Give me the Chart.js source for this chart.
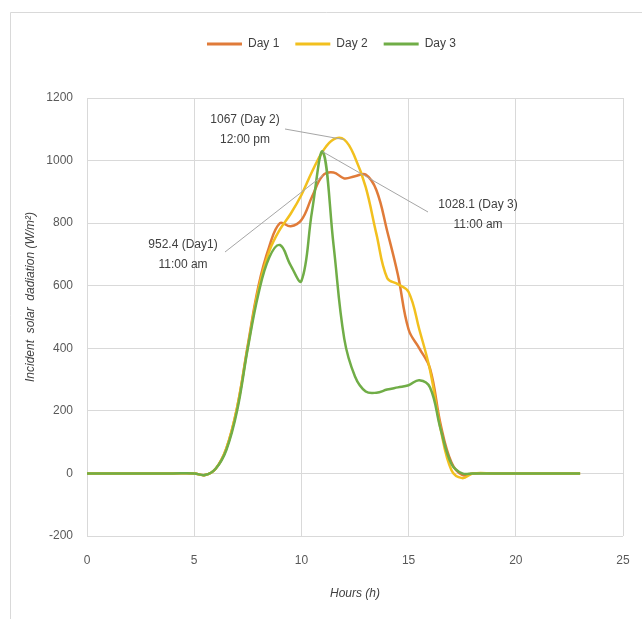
<!DOCTYPE html>
<html>
<head>
<meta charset="utf-8">
<script src="https://cdn.jsdelivr.net/npm/chart.js@4.4.1/dist/chart.umd.min.js"></script>
<style>
  html, body { margin: 0; padding: 0; background: #fff; }
  #wrap { width: 642px; height: 619px; }
</style>
</head>
<body>
<div id="wrap"><canvas id="solarChart" width="642" height="619"></canvas></div>
<script>
// Hours of the day (x values)
const hours = [0, 1, 2, 3, 4, 5, 5.5, 6, 6.5, 7, 7.5, 8, 8.5, 9, 9.5, 10, 10.5, 11, 11.5, 12,
               12.5, 13, 13.5, 14, 14.5, 15, 15.5, 16, 16.5, 17, 17.5, 18, 19, 20, 21, 22, 23];

// Incident solar radiation, W/m2
const day1 = [0, 0, 0, 0, 0, 0, -5, 15, 80, 210, 410, 600, 725, 800, 790, 810, 885, 952.4, 962, 943,
              950, 955, 905, 775, 635, 460, 400, 335, 155, 35, -5, 0, 0, 0, 0, 0, 0];
const day2 = [0, 0, 0, 0, 0, 0, -5, 15, 80, 210, 405, 590, 710, 780, 830, 890, 965, 1030, 1068, 1067,
              1010, 915, 765, 625, 605, 580, 460, 330, 140, 10, -15, 0, 0, 0, 0, 0, 0];
const day3 = [0, 0, 0, 0, 0, 0, -5, 15, 75, 200, 400, 575, 690, 730, 665, 615, 840, 1028.1, 730, 430,
              310, 262, 258, 268, 275, 282, 298, 275, 140, 30, 0, 0, 0, 0, 0, 0, 0];

const seriesNames = ["Day 1", "Day 2", "Day 3"];
const seriesColors = ["#e07b39", "#f2c01e", "#70ad47"];
const yTitle = "Incident  solar  dadiation (W/m²)";

// Peak call-outs: [series index, hour, text lines]
const callouts = [
  [1, 12, ["1067 (Day 2)", "12:00 pm"]],
  [2, 11, ["1028.1 (Day 3)", "11:00 am"]],
  [0, 11, ["952.4 (Day1)", "11:00 am"]]
];
// where each label sits (text centre / leader end, px)
const calloutLayout = [
  { tx: 245, ty: 130, lx: 285, ly: 129 },
  { tx: 478, ty: 215, lx: 428, ly: 212 },
  { tx: 183, ty: 255, lx: 225, ly: 252 }
];

const allData = [day1, day2, day3];
const FONT = "'Liberation Sans', Arial, sans-serif";

const datasets = seriesNames.map((name, i) => ({
  label: name,
  data: hours.map((h, k) => ({ x: h, y: allData[i][k] })),
  borderColor: seriesColors[i],
  backgroundColor: seriesColors[i],
  borderWidth: 2.5,
  pointRadius: 0,
  tension: 0.4,
  fill: false,
  order: 3 - i   // Day 3 on top
}));

const frame = {
  id: "frame",
  beforeDraw(c) {
    const ctx = c.ctx;
    ctx.save();
    ctx.fillStyle = "#fff";
    ctx.fillRect(0, 0, c.width, c.height);
    ctx.strokeStyle = "#d9d9d9";
    ctx.lineWidth = 1;
    ctx.beginPath();
    ctx.moveTo(10.5, 619);
    ctx.lineTo(10.5, 12.5);
    ctx.lineTo(642, 12.5);
    ctx.stroke();
    ctx.restore();
  },
  afterDraw(c) {
    // y axis title, sitting a little above the plot centre like the original
    const ctx = c.ctx;
    ctx.save();
    ctx.translate(31, 297);
    ctx.rotate(-Math.PI / 2);
    ctx.fillStyle = "#404040";
    ctx.font = "italic 12px " + FONT;
    ctx.textAlign = "center";
    ctx.textBaseline = "middle";
    ctx.fillText(yTitle, 0, 0);
    ctx.restore();
  }
};

// extra room under the legend, and nudge it right
const legendGap = {
  id: "legendGap",
  beforeInit(c) {
    const fit = c.legend.fit;
    c.legend.fit = function () {
      fit.bind(c.legend)();
      this.height += 38;
    };
  },
  afterLayout(c) {
    c.legend.left += 10;
    c.legend.right += 10;
  }
};

const labelsPlugin = {
  id: "callouts",
  afterDatasetsDraw(c) {
    const ctx = c.ctx;
    const xs = c.scales.x, ys = c.scales.y;
    ctx.save();
    callouts.forEach((co, i) => {
      const lay = calloutLayout[i];
      const idx = hours.indexOf(co[1]);
      const px = xs.getPixelForValue(co[1]);
      const py = ys.getPixelForValue(allData[co[0]][idx]);
      ctx.strokeStyle = "#a6a6a6";
      ctx.lineWidth = 1;
      ctx.beginPath();
      ctx.moveTo(lay.lx, lay.ly);
      ctx.lineTo(px, py);
      ctx.stroke();
      ctx.fillStyle = "#404040";
      ctx.font = "12px " + FONT;
      ctx.textAlign = "center";
      ctx.textBaseline = "middle";
      ctx.fillText(co[2][0], lay.tx, lay.ty - 10);
      ctx.fillText(co[2][1], lay.tx, lay.ty + 10);
    });
    ctx.restore();
  }
};

const ctx = document.getElementById("solarChart").getContext("2d");
const chart = new Chart(ctx, {
  type: "line",
  data: { datasets: datasets },
  plugins: [frame, legendGap, labelsPlugin],
  options: {
    responsive: false,
    animation: false,
    layout: { padding: { top: 22, right: 19, left: 20, bottom: 14 } },
    plugins: {
      legend: {
        position: "top",
        labels: {
          boxWidth: 35,
          boxHeight: 3,
          padding: 16,
          color: "#404040",
          font: { family: FONT, size: 12 },
          sort: (a, b) => a.datasetIndex - b.datasetIndex,
          generateLabels(ch) {
            const items = Chart.defaults.plugins.legend.labels.generateLabels(ch);
            items.forEach(it => { it.lineWidth = 0; });
            return items;
          }
        }
      },
      tooltip: { enabled: false }
    },
    scales: {
      x: {
        type: "linear",
        min: 0,
        max: 25,
        afterFit(s) { s.height = 69; s.paddingRight = 0; s.paddingLeft = 0; },
        ticks: { stepSize: 5, color: "#595959", padding: 17, font: { family: FONT, size: 12 },
                 callback: v => String(v) },
        grid: { color: "#d9d9d9", drawTicks: false },
        border: { display: false },
        title: { display: true, text: "Hours (h)", color: "#404040", padding: { top: 10 },
                 font: { family: FONT, size: 12, style: "italic" } }
      },
      y: {
        min: -200,
        max: 1200,
        afterFit(s) { s.width = 67; },
        ticks: { stepSize: 200, color: "#595959", padding: 14, font: { family: FONT, size: 12 },
                 callback: v => String(v) },
        grid: { color: "#d9d9d9", drawTicks: false },
        border: { display: false },
        title: { display: false }
      }
    }
  }
});
</script>
</body>
</html>
